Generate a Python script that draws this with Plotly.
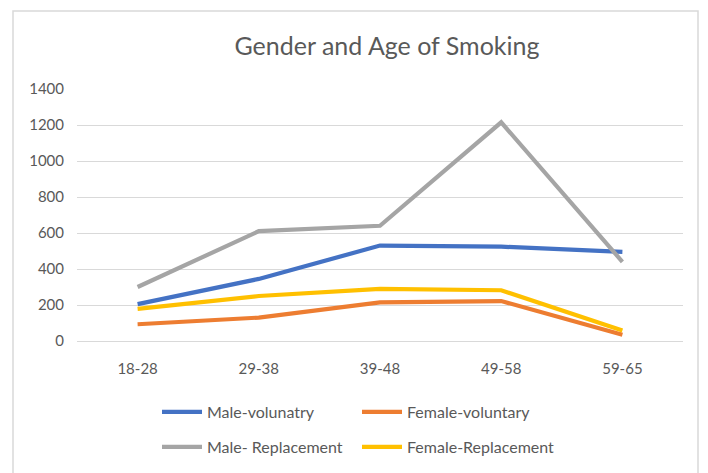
import plotly.graph_objects as go

categories = ["18-28", "29-38", "39-48", "49-58", "59-65"]
male_voluntary = [205, 345, 530, 524, 495]
female_voluntary = [93, 130, 215, 222, 35]
male_replacement = [300, 610, 640, 1215, 440]
female_replacement = [178, 250, 290, 282, 58]
y_ticks = [0, 200, 400, 600, 800, 1000, 1200, 1400]

W, H = 708, 473
L, R, T, B = 77, 25, 89, 132
pw, ph = W - L - R, H - T - B

def px_x(p):
    return (p - L) / pw

def px_y(p):
    return (H - B - p) / ph

series = [
    ("Male-volunatry", male_voluntary, "#4472C4", "legend"),
    ("Female-voluntary", female_voluntary, "#ED7D31", "legend"),
    ("Male- Replacement", male_replacement, "#A5A5A5", "legend2"),
    ("Female-Replacement", female_replacement, "#FFC000", "legend2"),
]

font_family = "Lato, 'Open Sans', sans-serif"
txt = "#595959"

fig = go.Figure()
for name, vals, col, lg in series:
    fig.add_trace(go.Scatter(
        x=categories, y=vals, name=name, mode="lines",
        line=dict(color=col, width=4.2),
        legend=lg,
    ))

leg_common = dict(
    orientation="h", xanchor="left", yanchor="middle",
    font=dict(family=font_family, size=16, color=txt),
    bgcolor="rgba(0,0,0,0)", borderwidth=0,
    entrywidth=145, entrywidthmode="pixels",
    itemwidth=40, tracegroupgap=0,
)

fig.update_layout(
    width=W, height=H,
    margin=dict(l=L, r=R, t=T, b=B, pad=0, autoexpand=False),
    paper_bgcolor="white", plot_bgcolor="white",
    font=dict(family=font_family, color=txt, size=16),
    title=dict(
        text="Gender and Age of Smoking",
        font=dict(family=font_family, size=25, color=txt),
        x=px_x(387), xref="paper", xanchor="center",
        y=1 - 46 / H, yref="container", yanchor="middle",
    ),
    xaxis=dict(
        type="category", range=[-0.5, 4.5],
        showgrid=False, zeroline=False,
        showline=True, linecolor="#d9d9d9", linewidth=1.3,
        ticks="", tickfont=dict(size=15, color=txt),
        ticklabelstandoff=14,
        fixedrange=True,
    ),
    yaxis=dict(
        range=[0, 1400], tickvals=y_ticks,
        showgrid=True, gridcolor="#d9d9d9", gridwidth=1.3,
        zeroline=False, showline=False,
        ticks="", tickfont=dict(size=15, color=txt),
        ticklabelstandoff=12,
        fixedrange=True,
    ),
    legend=dict(x=px_x(157), y=px_y(412), **leg_common),
    legend2=dict(x=px_x(157), y=px_y(447), **leg_common),
    shapes=[dict(
        type="rect", xref="paper", yref="paper",
        x0=px_x(13), x1=px_x(698), y0=px_y(480), y1=px_y(11),
        line=dict(color="#d9d9d9", width=1.5), fillcolor="rgba(0,0,0,0)",
        layer="below",
    )],
)

fig.write_html("out.html")
